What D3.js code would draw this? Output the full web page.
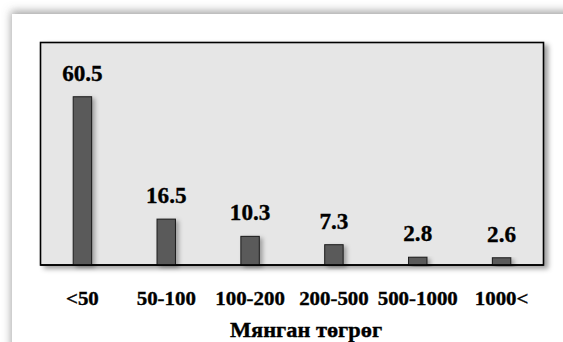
<!DOCTYPE html>
<html>
<head>
<meta charset="utf-8">
<script src="https://cdn.jsdelivr.net/npm/d3@7"></script>
<style>
  html, body { margin: 0; padding: 0; background: #ffffff; }
  svg { display: block; }
  svg text { stroke: #000; stroke-width: 0.35px; paint-order: stroke; }
</style>
</head>
<body>
<svg id="chart" width="563" height="342"></svg>
<script>
// Income groups (thousand tögrög) and share of households, %
const categories = ["<50", "50-100", "100-200", "200-500", "500-1000", "1000<"];
const values = [60.5, 16.5, 10.3, 7.3, 2.8, 2.6];
const valueLabels = ["60.5", "16.5", "10.3", "7.3", "2.8", "2.6"];
const axisTitle = "Мянган төгрөг";

const W = 563, H = 342;
const box = { left: 40.5, right: 543.5, top: 42.5, bottom: 265 };
const serif = "'Liberation Serif', 'Times New Roman', 'DejaVu Serif', serif";

const svg = d3.select("#chart");
const defs = svg.append("defs");

// soft shadow round the white card
const cardShadow = defs.append("filter").attr("id", "cardShadow")
  .attr("x", "-10%").attr("y", "-10%").attr("width", "120%").attr("height", "120%");
cardShadow.append("feDropShadow")
  .attr("dx", -1).attr("dy", -3).attr("stdDeviation", 4)
  .attr("flood-color", "#6a6a6a").attr("flood-opacity", 0.6);

// shadow cast to the lower right by the plot frame and bars
const boxShadow = defs.append("filter").attr("id", "boxShadow")
  .attr("x", "-5%").attr("y", "-5%").attr("width", "115%").attr("height", "120%");
boxShadow.append("feDropShadow")
  .attr("dx", 4).attr("dy", 3).attr("stdDeviation", 2.5)
  .attr("flood-color", "#000").attr("flood-opacity", 0.38);

const barShadow = defs.append("filter").attr("id", "barShadow")
  .attr("x", "-30%").attr("y", "-10%").attr("width", "200%").attr("height", "130%");
barShadow.append("feDropShadow")
  .attr("dx", 3).attr("dy", 2).attr("stdDeviation", 2)
  .attr("flood-color", "#000").attr("flood-opacity", 0.3);

// white card
svg.append("rect")
  .attr("x", 12).attr("y", 14).attr("width", W + 40).attr("height", H + 40)
  .attr("fill", "#ffffff").attr("filter", "url(#cardShadow)");

// plot frame
svg.append("rect")
  .attr("x", box.left).attr("y", box.top)
  .attr("width", box.right - box.left).attr("height", box.bottom - box.top)
  .attr("fill", "#e6e6e6").attr("stroke", "#000").attr("stroke-width", 1.6)
  .attr("filter", "url(#boxShadow)");

const x = d3.scaleBand()
  .domain(categories)
  .range([box.left, box.right])
  .paddingInner(0.78)
  .paddingOuter(0.39);

const y = d3.scaleLinear()
  .domain([0, 80])
  .range([box.bottom, box.top]);

// bars
svg.append("g")
  .selectAll("rect")
  .data(values)
  .join("rect")
  .attr("x", (d, i) => x(categories[i]))
  .attr("y", d => y(d))
  .attr("width", x.bandwidth())
  .attr("height", d => y(0) - y(d))
  .attr("fill", "#5a5a5a")
  .attr("stroke", "#1a1a1a")
  .attr("stroke-width", 1)
  .attr("filter", "url(#barShadow)");

// redraw frame edge on top so bar bottoms sit on it
svg.append("line")
  .attr("x1", box.left).attr("x2", box.right)
  .attr("y1", box.bottom).attr("y2", box.bottom)
  .attr("stroke", "#000").attr("stroke-width", 1.6);

// value labels above bars
svg.append("g")
  .selectAll("text")
  .data(values)
  .join("text")
  .attr("text-anchor", "middle")
  .attr("font-family", serif)
  .attr("font-weight", "bold")
  .attr("font-size", 22.5)
  .attr("fill", "#000")
  .attr("transform", (d, i) =>
    `translate(${x(categories[i]) + x.bandwidth() / 2},${y(d) - 16}) scale(1.03,1)`)
  .text((d, i) => valueLabels[i]);

// category axis, drawn with d3.axisBottom and no line or ticks
const axis = svg.append("g")
  .attr("transform", `translate(0,${box.bottom})`)
  .call(d3.axisBottom(x).tickSize(0).tickPadding(0));
axis.attr("font-family", serif).attr("font-size", 18).attr("font-weight", "bold");
axis.select(".domain").remove();
axis.selectAll(".tick text")
  .attr("y", null).attr("dy", null)
  .attr("font-family", serif)
  .attr("font-weight", "bold")
  .attr("font-size", 18)
  .attr("fill", "#000")
  .attr("transform", "translate(0,40) scale(1.16,1)");

// axis title
svg.append("text")
  .attr("text-anchor", "middle")
  .attr("font-family", serif)
  .attr("font-weight", "bold")
  .attr("font-size", 20)
  .attr("fill", "#000")
  .attr("transform", `translate(${(box.left + box.right) / 2 + 14},336.5) scale(1.12,1)`)
  .text(axisTitle);
</script>
</body>
</html>
